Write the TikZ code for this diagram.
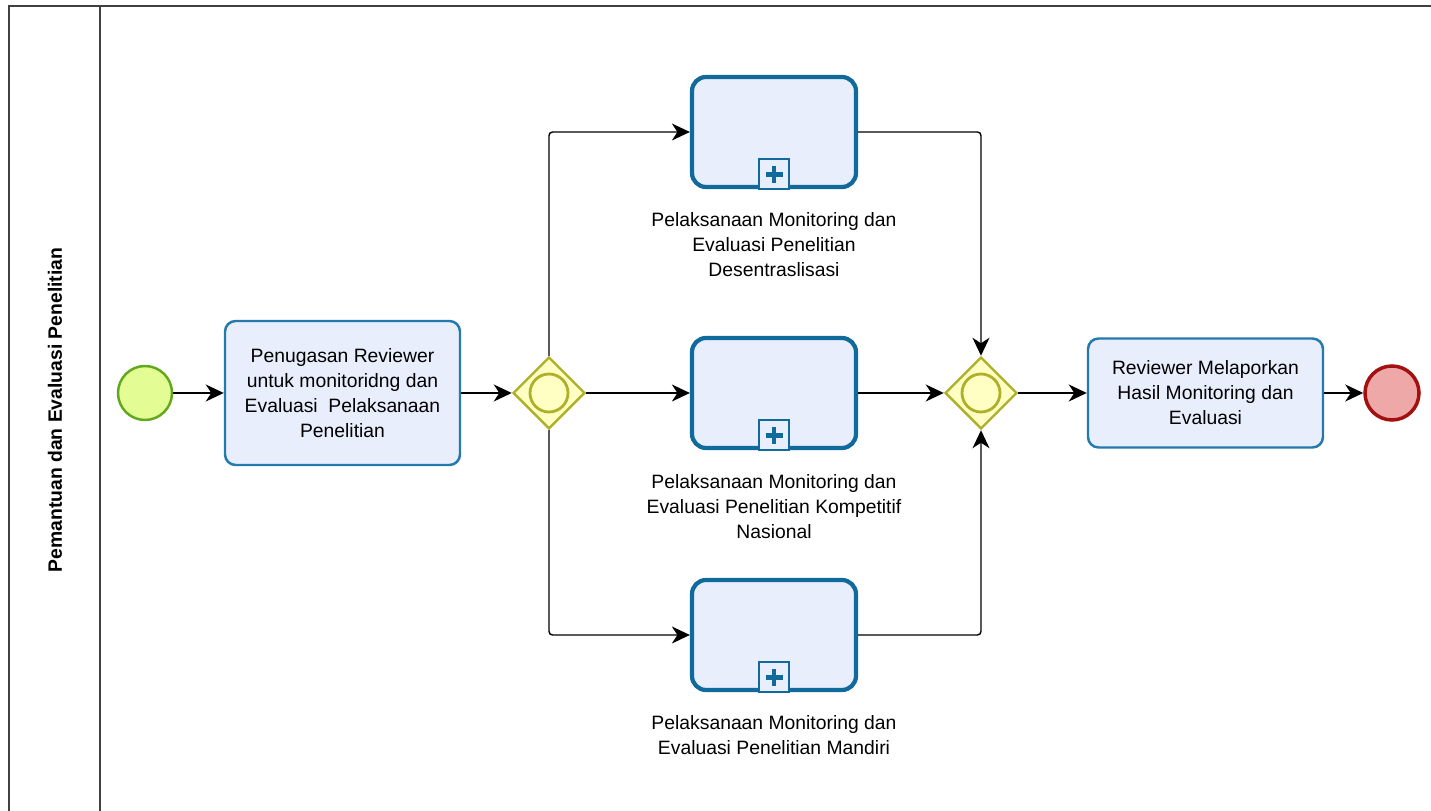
\documentclass[tikz,border=0pt]{standalone}
\usepackage{fontspec}
\setmainfont{Liberation Sans}
\usetikzlibrary{shapes.geometric,arrows.meta,positioning}
\definecolor{taskfill}{HTML}{E8EEFC}
\definecolor{taskline}{HTML}{2479AD}
\definecolor{subline}{HTML}{106A9B}
\definecolor{gwfill}{HTML}{FFFFC4}
\definecolor{gwline}{HTML}{AFAF2A}
\definecolor{startfill}{HTML}{E4FC94}
\definecolor{startline}{HTML}{62A81C}
\definecolor{endfill}{HTML}{EEA8A8}
\definecolor{endline}{HTML}{A31010}
\tikzset{
  >={Stealth[length=3.6mm,width=3.4mm,inset=1.1mm]},
  flow/.style={->, line width=0.8pt, rounded corners=2pt},
  task/.style={
    draw=taskline, fill=taskfill, line width=1.4pt, rounded corners=6pt,
    minimum width=4.7cm, align=center, font=\fontsize{11}{14.2}\selectfont
  },
  subproc/.style={
    draw=subline, fill=taskfill, line width=2.4pt, rounded corners=8pt,
    minimum width=3.28cm, minimum height=2.2cm
  },
  gateway/.style={
    diamond, draw=gwline, fill=gwfill, line width=1.4pt,
    minimum width=1.44cm, minimum height=1.44cm, inner sep=0pt
  },
  startev/.style={circle, draw=startline, fill=startfill, line width=1.4pt, minimum size=1.08cm},
  endev/.style={circle, draw=endline, fill=endfill, line width=2pt, minimum size=1.08cm},
  lbl/.style={align=center, inner sep=0pt, font=\fontsize{11}{14.2}\selectfont},
  collapsed/.pic={
    \draw[subline, fill=taskfill, line width=1.2pt] (-0.3,0) rectangle (0.3,0.6);
    \draw[subline, line width=2.8pt] (-0.17,0.3) -- (0.17,0.3) (0,0.13) -- (0,0.47);
  }
}
\begin{document}
\begin{tikzpicture}
\useasboundingbox (0,0) rectangle (28.62,16.22);

% pool and lane
\draw[line width=0.9pt, black!75] (28.8,16.10) -- (0.18,16.10) -- (0.18,-0.2);
\draw[line width=0.9pt, black!75] (2.0,16.10) -- (2.0,-0.2);
\node[rotate=90, font=\fontsize{11}{13}\selectfont\bfseries] (lane) at (1.1,8.02) {Pemantuan dan Evaluasi Penelitian};

\node[startev] (start) at (2.90,8.36) {};
\node[task, minimum height=2.88cm] (t1) at (6.85,8.36) {Penugasan Reviewer\\untuk monitoridng dan\\Evaluasi~~Pelaksanaan\\Penelitian};
\node[gateway] (g1) at (10.98,8.36) {};
\draw[gwline, line width=1.6pt] (g1) circle (0.38cm);

\node[subproc] (sa) at (15.48,13.58) {};
\node[subproc] (sb) at (15.48,8.36) {};
\node[subproc] (sc) at (15.48,3.52) {};
\foreach \s in {sa,sb,sc} \pic at (\s.south) {collapsed};
\node[lbl, below=0.46cm of sa] (sa-l) {Pelaksanaan Monitoring dan\\Evaluasi Penelitian\\Desentraslisasi};
\node[lbl, below=0.48cm of sb] (sb-l) {Pelaksanaan Monitoring dan\\Evaluasi Penelitian Kompetitif\\Nasional};
\node[lbl, below=0.46cm of sc] (sc-l) {Pelaksanaan Monitoring dan\\Evaluasi Penelitian Mandiri};

\node[gateway] (g2) at (19.62,8.36) {};
\draw[gwline, line width=1.6pt] (g2) circle (0.38cm);
\node[task, minimum height=2.18cm] (t2) at (24.11,8.36) {Reviewer Melaporkan\\Hasil Monitoring dan\\Evaluasi};
\node[endev] (end) at (27.84,8.36) {};

\draw[flow] (start) -- (t1);
\draw[flow] (t1) -- (g1);
\draw[flow] (g1.north) |- (sa);
\draw[flow] (g1) -- (sb);
\draw[flow] (g1.south) |- (sc);
\draw[flow] (sa) -| (g2.north);
\draw[flow] (sb) -- (g2);
\draw[flow] (sc) -| (g2.south);
\draw[flow] (g2) -- (t2);
\draw[flow] (t2) -- (end);

\end{tikzpicture}
\end{document}
